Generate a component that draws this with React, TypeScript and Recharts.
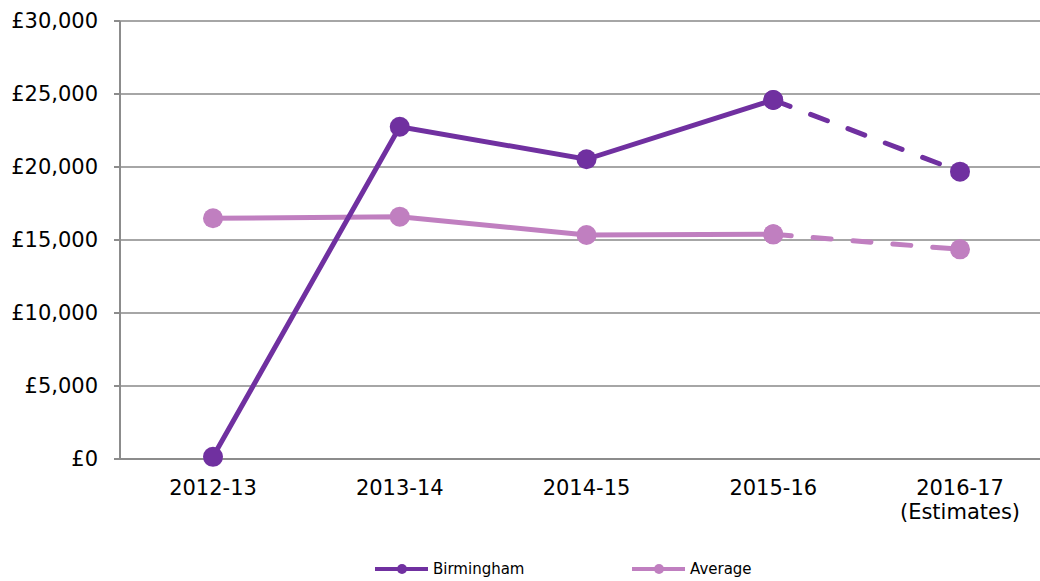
import React from 'react';
import { LineChart, Line, XAxis, YAxis, CartesianGrid, Legend } from 'recharts';

const categories = ['2012-13', '2013-14', '2014-15', '2015-16', '2016-17\n(Estimates)'];
const birmingham = [150, 22760, 20530, 24590, 19680];
const average = [16490, 16600, 15340, 15390, 14360];
const yTicks = [0, 5000, 10000, 15000, 20000, 25000, 30000];
const seriesNames = ['Birmingham', 'Average'];

const BIRM = '#7030A0';
const AVG = '#C07FC0';
const FONT = 'Verdana, "DejaVu Sans", sans-serif';

const lastSolid = 3;
const data = categories.map((c, i) => ({
  cat: c,
  bSolid: i <= lastSolid ? birmingham[i] : null,
  bDash: i >= lastSolid ? birmingham[i] : null,
  aSolid: i <= lastSolid ? average[i] : null,
  aDash: i >= lastSolid ? average[i] : null,
}));

const XTick = (props: any) => {
  const { x, y, payload } = props;
  const lines = String(payload.value).split('\n');
  return (
    <g transform={`translate(${x},${y})`}>
      {lines.map((l: string, i: number) => (
        <text key={i} x={0} y={i * 24} dy={28} textAnchor="middle" fill="#000" fontSize={21} fontFamily={FONT}>
          {l}
        </text>
      ))}
    </g>
  );
};

const LegendContent = () => {
  const items = [
    { name: seriesNames[0], color: BIRM, x: 375 },
    { name: seriesNames[1], color: AVG, x: 632 },
  ];
  return (
    <svg width={1060} height={24} style={{ display: 'block' }}>
      {items.map((it) => (
        <g key={it.name}>
          <line x1={it.x} x2={it.x + 53} y1={12} y2={12} stroke={it.color} strokeWidth={4} />
          <circle cx={it.x + 27} cy={12} r={5} fill={it.color} />
          <text x={it.x + 58} y={12} dy={5} fontSize={15} fontFamily={FONT} fill="#000">
            {it.name}
          </text>
        </g>
      ))}
    </svg>
  );
};

const dot = (color: string) => ({ r: 10, fill: color, stroke: color, strokeWidth: 0 });

export default function App() {
  return (
    <div style={{ position: 'absolute', left: 0, top: 0, width: 1040, height: 581, overflow: 'hidden', background: '#fff' }}>
      <LineChart width={1060} height={581} data={data} margin={{ top: 21, right: 7, left: 0, bottom: 0 }}>
        <CartesianGrid vertical={false} stroke="#A6A6A6" strokeWidth={2} />
        <XAxis
          dataKey="cat"
          height={98}
          tick={<XTick />}
          tickLine={false}
          axisLine={{ stroke: '#8C8C8C', strokeWidth: 2 }}
          interval={0}
          padding={{ left: 93, right: 93 }}
        />
        <YAxis
          width={120}
          domain={[0, 30000]}
          ticks={yTicks}
          tickFormatter={(v: number) => `£${v.toLocaleString('en-GB')}`}
          tick={{ fill: '#000', fontSize: 21, fontFamily: FONT }}
          tickSize={6}
          tickMargin={16}
          tickLine={{ stroke: '#8C8C8C', strokeWidth: 2 }}
          axisLine={{ stroke: '#8C8C8C', strokeWidth: 2 }}
        />
        <Legend verticalAlign="bottom" height={24} content={<LegendContent />} wrapperStyle={{ left: 0, width: 1060 }} />
        <Line dataKey="aSolid" stroke={AVG} strokeWidth={5} dot={dot(AVG)} activeDot={false} isAnimationActive={false} connectNulls={false} />
        <Line dataKey="aDash" stroke={AVG} strokeWidth={5} strokeDasharray="18 22" strokeLinecap="round" dot={dot(AVG)} activeDot={false} isAnimationActive={false} connectNulls={false} />
        <Line dataKey="bSolid" stroke={BIRM} strokeWidth={5} dot={dot(BIRM)} activeDot={false} isAnimationActive={false} connectNulls={false} />
        <Line dataKey="bDash" stroke={BIRM} strokeWidth={5} strokeDasharray="18 22" strokeLinecap="round" dot={dot(BIRM)} activeDot={false} isAnimationActive={false} connectNulls={false} />
      </LineChart>
    </div>
  );
}
